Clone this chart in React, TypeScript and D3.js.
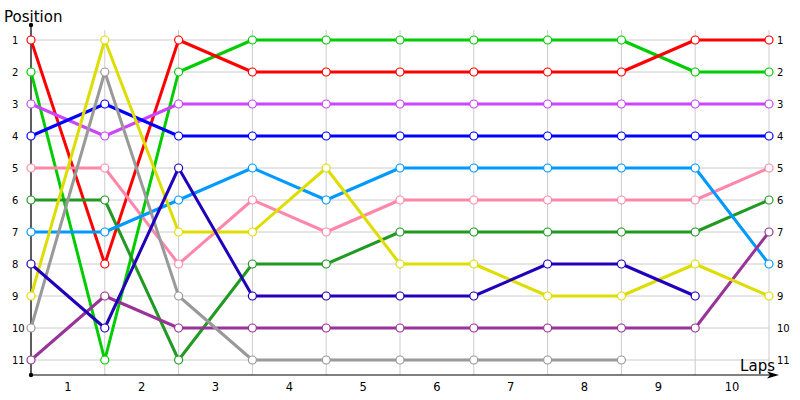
import { line, scaleLinear } from 'd3'

const laps = ['1', '2', '3', '4', '5', '6', '7', '8', '9', '10']
const positions = [1, 2, 3, 4, 5, 6, 7, 8, 9, 10, 11]

// positions at each lap boundary (start, after lap 1, ... after lap 10)
const red = [1, 8, 1, 2, 2, 2, 2, 2, 2, 1, 1]
const green = [2, 11, 2, 1, 1, 1, 1, 1, 1, 2, 2]
const violet = [3, 4, 3, 3, 3, 3, 3, 3, 3, 3, 3]
const blue = [4, 3, 4, 4, 4, 4, 4, 4, 4, 4, 4]
const skyBlue = [7, 7, 6, 5, 6, 5, 5, 5, 5, 5, 8]
const pink = [5, 5, 8, 6, 7, 6, 6, 6, 6, 6, 5]
const darkGreen = [6, 6, 11, 8, 8, 7, 7, 7, 7, 7, 6]
const navy = [8, 10, 5, 9, 9, 9, 9, 8, 8, 9]
const yellow = [9, 1, 7, 7, 5, 8, 8, 9, 9, 8, 9]
const gray = [10, 2, 9, 11, 11, 11, 11, 11, 11]
const plum = [11, 9, 10, 10, 10, 10, 10, 10, 10, 10, 7]

// drawing order, bottom to top
const series = [
  { name: 'green', values: green, color: '#00cc00' },
  { name: 'red', values: red, color: '#ff0000' },
  { name: 'violet', values: violet, color: '#cc44ff' },
  { name: 'blue', values: blue, color: '#0000ff' },
  { name: 'pink', values: pink, color: '#ff88aa' },
  { name: 'darkGreen', values: darkGreen, color: '#229922' },
  { name: 'skyBlue', values: skyBlue, color: '#0099ff' },
  { name: 'plum', values: plum, color: '#993399' },
  { name: 'gray', values: gray, color: '#999999' },
  { name: 'yellow', values: yellow, color: '#dddd00' },
  { name: 'navy', values: navy, color: '#2200bb' },
]

const WIDTH = 800
const HEIGHT = 400
const LEFT = 31
const RIGHT = 769
const TOP = 40
const BOTTOM = 360
const AXIS_Y = 375
const FONT = '"DejaVu Sans", Verdana, sans-serif'

export default function App() {
  const x = scaleLinear().domain([0, laps.length]).range([LEFT, RIGHT])
  const y = scaleLinear().domain([1, 11]).range([TOP, BOTTOM])
  const path = line<number>()
    .x((_, i) => x(i))
    .y((d) => y(d))

  const boundaries = Array.from({ length: laps.length + 1 }, (_, i) => i)

  return (
    <svg
      width={WIDTH}
      height={HEIGHT}
      style={{ position: 'absolute', left: 0, top: 0, background: '#fff' }}
      fontFamily={FONT}
    >
      {/* grid */}
      {boundaries.map((b) => (
        <line
          key={`v${b}`}
          x1={x(b)}
          x2={x(b)}
          y1={30}
          y2={AXIS_Y}
          stroke="#cccccc"
          strokeWidth={1}
        />
      ))}
      {positions.map((p) => (
        <line
          key={`h${p}`}
          x1={LEFT}
          x2={RIGHT}
          y1={y(p)}
          y2={y(p)}
          stroke="#cccccc"
          strokeWidth={1}
        />
      ))}

      {/* axes */}
      <line x1={LEFT} x2={LEFT} y1={25} y2={AXIS_Y} stroke="#000" strokeWidth={1.2} />
      <line x1={LEFT} x2={772} y1={AXIS_Y} y2={AXIS_Y} stroke="#000" strokeWidth={1.2} />
      <path d={`M779,${AXIS_Y} L767,${AXIS_Y - 3.5} L770,${AXIS_Y} L767,${AXIS_Y + 3.5} Z`} fill="#000" />
      <circle cx={LEFT} cy={25} r={2.2} fill="#000" />
      <circle cx={LEFT} cy={AXIS_Y} r={2.2} fill="#000" />

      {/* position labels */}
      {positions.map((p) => (
        <text key={`l${p}`} x={12} y={y(p) + 3.5} fontSize={10} fill="#000">
          {p}
        </text>
      ))}
      {positions.map((p) => (
        <text key={`r${p}`} x={777} y={y(p) + 3.5} fontSize={10} fill="#000">
          {p}
        </text>
      ))}

      {/* lap labels */}
      {laps.map((lap, i) => (
        <text
          key={`lap${lap}`}
          x={(x(i) + x(i + 1)) / 2}
          y={391}
          fontSize={11.5}
          textAnchor="middle"
          fill="#000"
        >
          {lap}
        </text>
      ))}

      <text x={4} y={22} fontSize={15} fill="#000">
        Position
      </text>
      <text x={775} y={371} fontSize={15} textAnchor="end" fill="#000">
        Laps
      </text>

      {/* series */}
      {series.map((s) => (
        <path
          key={s.name}
          d={path(s.values) ?? ''}
          fill="none"
          stroke={s.color}
          strokeWidth={3}
          strokeLinejoin="round"
        />
      ))}
      {series.map((s) =>
        s.values.map((v, i) => (
          <circle
            key={`${s.name}-${i}`}
            cx={x(i)}
            cy={y(v)}
            r={4}
            fill="#fff"
            stroke={s.color}
            strokeWidth={1.2}
          />
        )),
      )}
    </svg>
  )
}
